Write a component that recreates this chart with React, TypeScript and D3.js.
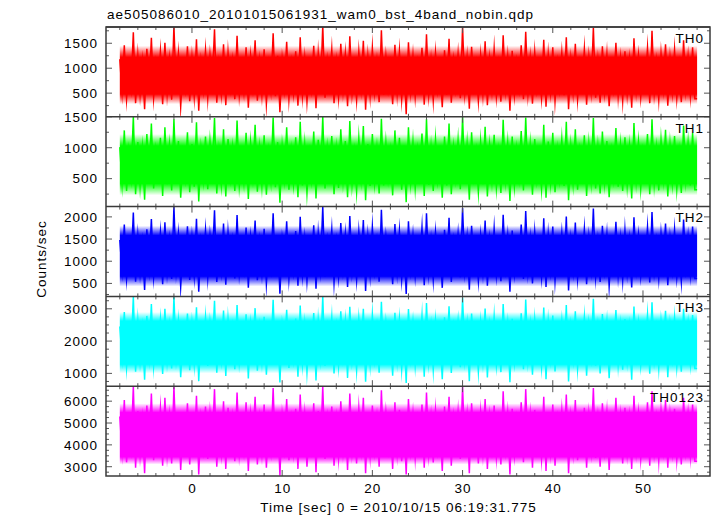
import React from "react";
import * as d3 from "d3";

const TITLE = "ae505086010_20101015061931_wam0_bst_4band_nobin.qdp";
const X_LABEL = "Time [sec] 0 = 2010/10/15 06:19:31.775";
const Y_LABEL = "Counts/sec";
const PANEL_NAMES = ["TH0", "TH1", "TH2", "TH3", "TH0123"];
const COLORS = ["#ff0000", "#00ff00", "#0000ff", "#00ffff", "#ff00ff"];
const Y_DOMAINS = [[26, 1826], [48, 1500], [207, 2232], [603, 3384], [2575, 6685]];
const Y_TICKS = [[500, 1000, 1500], [500, 1000, 1500], [500, 1000, 1500, 2000], [1000, 2000, 3000], [3000, 4000, 5000, 6000]];
const Y_MINOR_STEP = 250;
const X_TICKS = [0, 10, 20, 30, 40, 50];
const X_MINOR_STEP = 2;
const X_DOMAIN = [-9.53, 57.43];
const T_START = -8;
const T_END = 56;
const T_STEP = 0.25;
// dense band where the light curve is solid, and the outer limits of its fuzzy edge
const CORE_LO = [480, 420, 660, 1280, 3450];
const CORE_HI = [1220, 1030, 1580, 2620, 5480];
const FADE_LO = [280, 230, 430, 1000, 3100];
const FADE_HI = [1450, 1220, 1800, 2900, 5900];

const th0 = [
  1180, 520, 1460, 390, 1050, 610, 1720, 300, 1240, 470, 1120, 180, 1390, 560, 1610, 420,
  1090, 650, 1330, 280, 1510, 490, 1160, 370, 1850, 540, 1270, 230, 1020, 600, 1440, 340,
  1200, 450, 1580, 150, 1110, 580, 1350, 410, 1260, 690, 1780, 310, 1070, 500, 1480, 260,
  1310, 620, 1140, 380, 1650, 460, 990, 530, 1420, 210, 1230, 640, 1560, 350, 1130, 480,
  1380, 290, 1060, 570, 1700, 440, 1250, 120, 1170, 610, 1530, 390, 1080, 520, 1340, 250,
  1620, 470, 1190, 330, 1030, 590, 1450, 200, 1290, 550, 1850, 410, 1150, 660, 1370, 300,
  1100, 430, 1490, 580, 1270, 240, 1640, 500, 1040, 370, 1320, 620, 1550, 170, 1210, 460,
  1400, 540, 1120, 320, 1760, 470, 1230, 600, 1060, 280, 1470, 510, 1330, 390, 1180, 80,
  1520, 560, 1250, 430, 1090, 650, 1410, 270, 1680, 490, 1150, 360, 1300, 580, 1010, 220,
  1360, 470, 1590, 310, 1140, 610, 1280, 400, 1830, 530, 1200, 190, 1430, 640, 1070, 350,
  1240, 500, 1540, 260, 1170, 570, 1390, 440, 1050, 330, 1660, 600, 1220, 150, 1350, 480,
  1110, 620, 1460, 380, 1730, 510, 1190, 290, 1310, 590, 1020, 420, 1570, 230, 1260, 550,
  1420, 340, 1090, 600, 1300, 460, 1620, 180, 1160, 530, 1490, 390, 1080, 640, 1380, 270,
  1210, 570, 1810, 410, 1130, 310, 1440, 560, 1270, 240, 1050, 610, 1510, 450, 1180, 360,
  1340, 490, 1150, 210, 1600, 580, 1240, 430, 1070, 660, 1400, 300, 1750, 520, 1120, 380,
  1290, 610, 1480, 250, 1190, 540, 1360, 410, 1040, 320, 1560, 590, 1230, 470, 1420, 390,
];

const th1 = [
  1010, 420, 1280, 300, 940, 530, 1500, 250, 1090, 380, 980, 160, 1220, 470, 1390, 340,
  950, 560, 1160, 220, 1330, 410, 1020, 310, 1460, 450, 1110, 190, 890, 520, 1250, 280,
  1060, 370, 1410, 130, 970, 490, 1180, 330, 1100, 600, 1480, 260, 930, 420, 1300, 210,
  1140, 530, 990, 300, 1440, 390, 860, 450, 1240, 170, 1070, 550, 1370, 290, 980, 400,
  1200, 240, 920, 480, 1490, 360, 1090, 110, 1020, 520, 1330, 320, 940, 430, 1170, 200,
  1420, 390, 1040, 270, 900, 500, 1260, 180, 1130, 460, 1500, 340, 1000, 570, 1190, 250,
  960, 350, 1300, 490, 1110, 200, 1430, 420, 910, 300, 1150, 530, 1350, 150, 1060, 380,
  1220, 450, 980, 260, 1470, 390, 1080, 510, 930, 230, 1280, 430, 1160, 320, 1030, 120,
  1330, 470, 1090, 350, 950, 560, 1230, 220, 1460, 400, 1000, 300, 1130, 490, 880, 190,
  1180, 390, 1390, 250, 990, 520, 1120, 330, 1500, 440, 1050, 160, 1250, 550, 930, 290,
  1080, 410, 1340, 210, 1020, 480, 1210, 360, 910, 270, 1450, 510, 1060, 140, 1180, 400,
  970, 530, 1270, 310, 1490, 420, 1040, 240, 1140, 500, 890, 350, 1370, 190, 1100, 460,
  1240, 280, 950, 510, 1130, 380, 1420, 150, 1010, 440, 1300, 320, 940, 550, 1200, 220,
  1050, 480, 1480, 340, 990, 260, 1260, 470, 1110, 200, 920, 520, 1320, 370, 1030, 300,
  1170, 400, 1000, 180, 1400, 490, 1080, 350, 930, 570, 1220, 250, 1460, 430, 980, 310,
  1120, 520, 1290, 210, 1040, 450, 1190, 340, 910, 270, 1360, 500, 1070, 390, 1240, 320,
];

const th2 = [
  1480, 800, 1830, 620, 1350, 890, 2100, 540, 1560, 730, 1400, 350, 1720, 860, 1950, 660,
  1390, 930, 1640, 480, 1880, 760, 1460, 600, 2230, 820, 1590, 430, 1300, 900, 1790, 580,
  1520, 700, 1960, 310, 1410, 870, 1690, 650, 1580, 950, 2150, 530, 1340, 780, 1850, 470,
  1650, 910, 1450, 610, 2040, 720, 1280, 820, 1760, 400, 1540, 940, 1920, 570, 1430, 740,
  1730, 500, 1360, 860, 2080, 690, 1570, 270, 1480, 900, 1900, 620, 1380, 800, 1680, 450,
  2000, 730, 1500, 560, 1320, 880, 1810, 380, 1620, 840, 2230, 650, 1460, 950, 1710, 520,
  1400, 680, 1860, 850, 1590, 420, 2020, 770, 1330, 590, 1660, 910, 1930, 330, 1530, 710,
  1770, 820, 1420, 540, 2160, 730, 1550, 880, 1350, 480, 1840, 790, 1670, 620, 1490, 260,
  1900, 850, 1580, 680, 1390, 940, 1760, 460, 2080, 760, 1460, 590, 1640, 870, 1300, 400,
  1710, 740, 1980, 530, 1440, 900, 1610, 640, 2200, 810, 1520, 360, 1800, 930, 1370, 570,
  1560, 780, 1920, 450, 1480, 860, 1740, 690, 1340, 550, 2050, 890, 1550, 310, 1690, 750,
  1410, 910, 1830, 600, 2130, 790, 1500, 500, 1650, 870, 1310, 660, 1970, 420, 1590, 830,
  1780, 560, 1380, 880, 1630, 720, 2010, 340, 1470, 810, 1870, 630, 1360, 940, 1720, 480,
  1530, 850, 2190, 670, 1430, 530, 1800, 860, 1600, 440, 1330, 900, 1890, 700, 1490, 590,
  1690, 760, 1460, 410, 1990, 870, 1570, 690, 1350, 950, 1760, 520, 2110, 800, 1420, 630,
  1620, 900, 1850, 460, 1510, 830, 1700, 650, 1320, 560, 1940, 880, 1550, 740, 1780, 610,
];

const th3 = [
  2450, 1500, 2900, 1200, 2250, 1640, 3380, 1050, 2600, 1380, 2350, 800, 2780, 1560, 3150, 1250,
  2300, 1700, 2650, 980, 3000, 1420, 2420, 1150, 3380, 1530, 2580, 880, 2180, 1650, 2850, 1100,
  2500, 1330, 3050, 760, 2330, 1600, 2720, 1230, 2560, 1700, 3250, 1020, 2260, 1450, 2950, 920,
  2680, 1680, 2400, 1130, 3120, 1360, 2150, 1520, 2830, 840, 2510, 1700, 3020, 1080, 2380, 1400,
  2750, 960, 2280, 1580, 3280, 1290, 2540, 720, 2460, 1660, 2970, 1170, 2310, 1480, 2700, 900,
  3100, 1350, 2480, 1040, 2220, 1610, 2870, 780, 2620, 1540, 3380, 1230, 2400, 1700, 2730, 1000,
  2340, 1270, 2920, 1580, 2590, 860, 3060, 1440, 2240, 1110, 2660, 1650, 3000, 740, 2500, 1320,
  2800, 1500, 2380, 1020, 3220, 1360, 2550, 1620, 2270, 930, 2880, 1460, 2640, 1160, 2430, 700,
  2990, 1560, 2560, 1250, 2320, 1690, 2780, 900, 3180, 1400, 2420, 1120, 2620, 1600, 2200, 820,
  2740, 1380, 3080, 1010, 2390, 1660, 2600, 1190, 3350, 1500, 2470, 760, 2850, 1700, 2290, 1070,
  2540, 1430, 3010, 870, 2430, 1590, 2760, 1280, 2230, 1040, 3150, 1640, 2510, 730, 2690, 1390,
  2360, 1680, 2860, 1130, 3290, 1450, 2450, 960, 2640, 1600, 2190, 1230, 3040, 820, 2580, 1520,
  2790, 1060, 2300, 1620, 2610, 1330, 3120, 750, 2400, 1490, 2920, 1170, 2280, 1700, 2720, 930,
  2480, 1570, 3310, 1240, 2370, 1000, 2840, 1590, 2570, 850, 2210, 1660, 2960, 1300, 2440, 1110,
  2680, 1410, 2390, 800, 3070, 1600, 2520, 1280, 2250, 1700, 2800, 990, 3200, 1480, 2350, 1180,
  2600, 1650, 2940, 880, 2460, 1530, 2700, 1220, 2200, 1050, 3000, 1620, 2530, 1360, 2810, 1150,
];

const th0123 = [
  5300, 3700, 6050, 3200, 4950, 3850, 6685, 2950, 5550, 3550, 5100, 2700, 5800, 3800, 6350, 3300,
  5050, 3950, 5650, 3050, 6150, 3600, 5250, 3150, 6685, 3750, 5500, 2850, 4950, 3900, 5900, 3100,
  5400, 3500, 6250, 2650, 5150, 3850, 5750, 3350, 5450, 4000, 6550, 3000, 5000, 3650, 6000, 2900,
  5700, 3950, 5200, 3250, 6400, 3600, 4900, 3750, 5950, 2800, 5350, 3950, 6200, 3100, 5150, 3650,
  5850, 2950, 5050, 3800, 6600, 3450, 5400, 2600, 5300, 3900, 6100, 3300, 5100, 3700, 5650, 2900,
  6300, 3600, 5350, 3000, 4950, 3850, 5900, 2750, 5550, 3750, 6685, 3350, 5200, 4000, 5750, 3050,
  5100, 3450, 6000, 3800, 5500, 2850, 6350, 3700, 5000, 3150, 5650, 3900, 6150, 2700, 5350, 3550,
  5800, 3800, 5200, 3000, 6500, 3600, 5450, 3850, 5050, 2900, 5950, 3700, 5600, 3250, 5300, 2650,
  6100, 3850, 5400, 3400, 5100, 3950, 5850, 2950, 6400, 3650, 5250, 3200, 5550, 3800, 4950, 2800,
  5750, 3600, 6200, 3050, 5200, 3900, 5500, 3350, 6685, 3700, 5300, 2700, 5900, 4000, 5050, 3150,
  5450, 3700, 6100, 2900, 5250, 3850, 5800, 3450, 5000, 3100, 6450, 3900, 5400, 2650, 5650, 3600,
  5150, 3950, 5950, 3200, 6550, 3700, 5350, 2950, 5600, 3850, 4950, 3400, 6200, 2800, 5500, 3750,
  5850, 3050, 5100, 3850, 5550, 3550, 6300, 2700, 5200, 3700, 6050, 3300, 5050, 3950, 5700, 2950,
  5350, 3800, 6600, 3400, 5150, 3000, 5900, 3850, 5450, 2850, 5000, 3900, 6150, 3450, 5250, 3150,
  5700, 3650, 5200, 2900, 6250, 3800, 5400, 3400, 5050, 4000, 5950, 3050, 6450, 3750, 5150, 3300,
  5550, 3900, 6050, 2950, 5300, 3750, 5650, 3350, 4950, 3100, 6150, 3850, 5400, 3550, 5850, 3250,
];

const SERIES = [th0, th1, th2, th3, th0123];

const W = 717;
const H = 516;
const LEFT = 106;
const RIGHT = 710;
const TOP = 27;
const BOTTOM = 476;
const FONT = "'Liberation Sans', Arial, Helvetica, sans-serif";
const FS = 13.5;
const LS = 1.0;
const FRAME = "#3a3a3a";
const TICK = "#555555";

export default function App() {
  const x = d3.scaleLinear().domain(X_DOMAIN).range([LEFT, RIGHT]);
  const ph = (BOTTOM - TOP) / PANEL_NAMES.length;
  const xMinor = d3.range(T_START, T_END + 0.001, X_MINOR_STEP);

  const panels = PANEL_NAMES.map((name, i) => {
    const top = TOP + i * ph;
    const bot = top + ph;
    const y = d3.scaleLinear().domain(Y_DOMAINS[i]).range([bot, top]);
    return { name, i, top, bot, y };
  });

  return (
    <svg width={W} height={H} style={{ position: "absolute", left: 0, top: 0, background: "#fff" }}
      fontFamily={FONT} fontSize={FS} letterSpacing={LS}>
      <rect x={0} y={0} width={W} height={H} fill="#fff" />
      <defs>
        {panels.map(({ name, i, top, y }) => {
          const y1 = y(FADE_HI[i]);
          const y2 = y(FADE_LO[i]);
          const span = y2 - y1;
          const o1 = (y(CORE_HI[i]) - y1) / span;
          const o2 = (y(CORE_LO[i]) - y1) / span;
          return (
            <React.Fragment key={name}>
              <clipPath id={`clip${i}`}>
                <rect x={LEFT} y={top} width={RIGHT - LEFT} height={ph} />
              </clipPath>
              <linearGradient id={`grad${i}`} gradientUnits="userSpaceOnUse" x1={0} x2={0} y1={y1} y2={y2}>
                <stop offset={0} stopColor={COLORS[i]} stopOpacity={0} />
                <stop offset={o1} stopColor={COLORS[i]} stopOpacity={1} />
                <stop offset={o2} stopColor={COLORS[i]} stopOpacity={1} />
                <stop offset={1} stopColor={COLORS[i]} stopOpacity={0} />
              </linearGradient>
            </React.Fragment>
          );
        })}
      </defs>
      <text x={107} y={19} fill="#000">{TITLE}</text>
      {panels.map(({ name, i, top, bot, y }) => {
        const data = SERIES[i].map((v, k) => ({ t: T_START + k * T_STEP, v }));
        data.push({ t: T_END, v: SERIES[i][SERIES[i].length - 1] });
        const line = d3.line<{ t: number; v: number }>().x((d) => x(d.t)).y((d) => y(d.v));
        const band = d3.area<number>().x((d) => x(d)).y0(y(FADE_LO[i])).y1(y(FADE_HI[i]));
        const yMinor = d3.range(Math.ceil(Y_DOMAINS[i][0] / Y_MINOR_STEP) * Y_MINOR_STEP, Y_DOMAINS[i][1] + 0.001, Y_MINOR_STEP);
        return (
          <g key={name}>
            <g clipPath={`url(#clip${i})`}>
              <path d={band([T_START, T_END]) || ""} fill={`url(#grad${i})`} />
              <path d={line(data) || ""} fill="none" stroke={COLORS[i]} strokeWidth={1.5} strokeLinejoin="miter" strokeMiterlimit={20} />
            </g>
            {xMinor.map((t) => {
              const major = X_TICKS.includes(t);
              const len = major ? 6 : 3;
              return (
                <g key={`xt${t}`} stroke={TICK} strokeWidth={1}>
                  <line x1={x(t)} x2={x(t)} y1={top} y2={top + len} />
                  <line x1={x(t)} x2={x(t)} y1={bot} y2={bot - len} />
                </g>
              );
            })}
            {yMinor.map((v) => {
              const major = Y_TICKS[i].includes(v);
              const len = major ? 6 : 3;
              return (
                <g key={`yt${v}`} stroke={TICK} strokeWidth={1}>
                  <line x1={LEFT} x2={LEFT + len} y1={y(v)} y2={y(v)} />
                  <line x1={RIGHT} x2={RIGHT - len} y1={y(v)} y2={y(v)} />
                </g>
              );
            })}
            {Y_TICKS[i].map((v) => (
              <text key={`yl${v}`} x={97 + LS} y={y(v) + 4.8} textAnchor="end" fill="#000">{v}</text>
            ))}
            <text x={703 + LS} y={top + 15.7} textAnchor="end" fill="#000">{name}</text>
            <line x1={LEFT} x2={RIGHT} y1={top} y2={top} stroke={FRAME} strokeWidth={1.5} />
          </g>
        );
      })}
      <rect x={LEFT} y={TOP} width={RIGHT - LEFT} height={BOTTOM - TOP} fill="none" stroke={FRAME} strokeWidth={1.5} />
      {X_TICKS.map((t) => (
        <text key={`xl${t}`} x={x(t) + LS / 2} y={493} textAnchor="middle" fill="#000">{t}</text>
      ))}
      <text x={398 + LS / 2} y={511.5} textAnchor="middle" fill="#000">{X_LABEL}</text>
      <text transform={`translate(45.5,259) rotate(-90)`} textAnchor="middle" fill="#000">{Y_LABEL}</text>
    </svg>
  );
}
